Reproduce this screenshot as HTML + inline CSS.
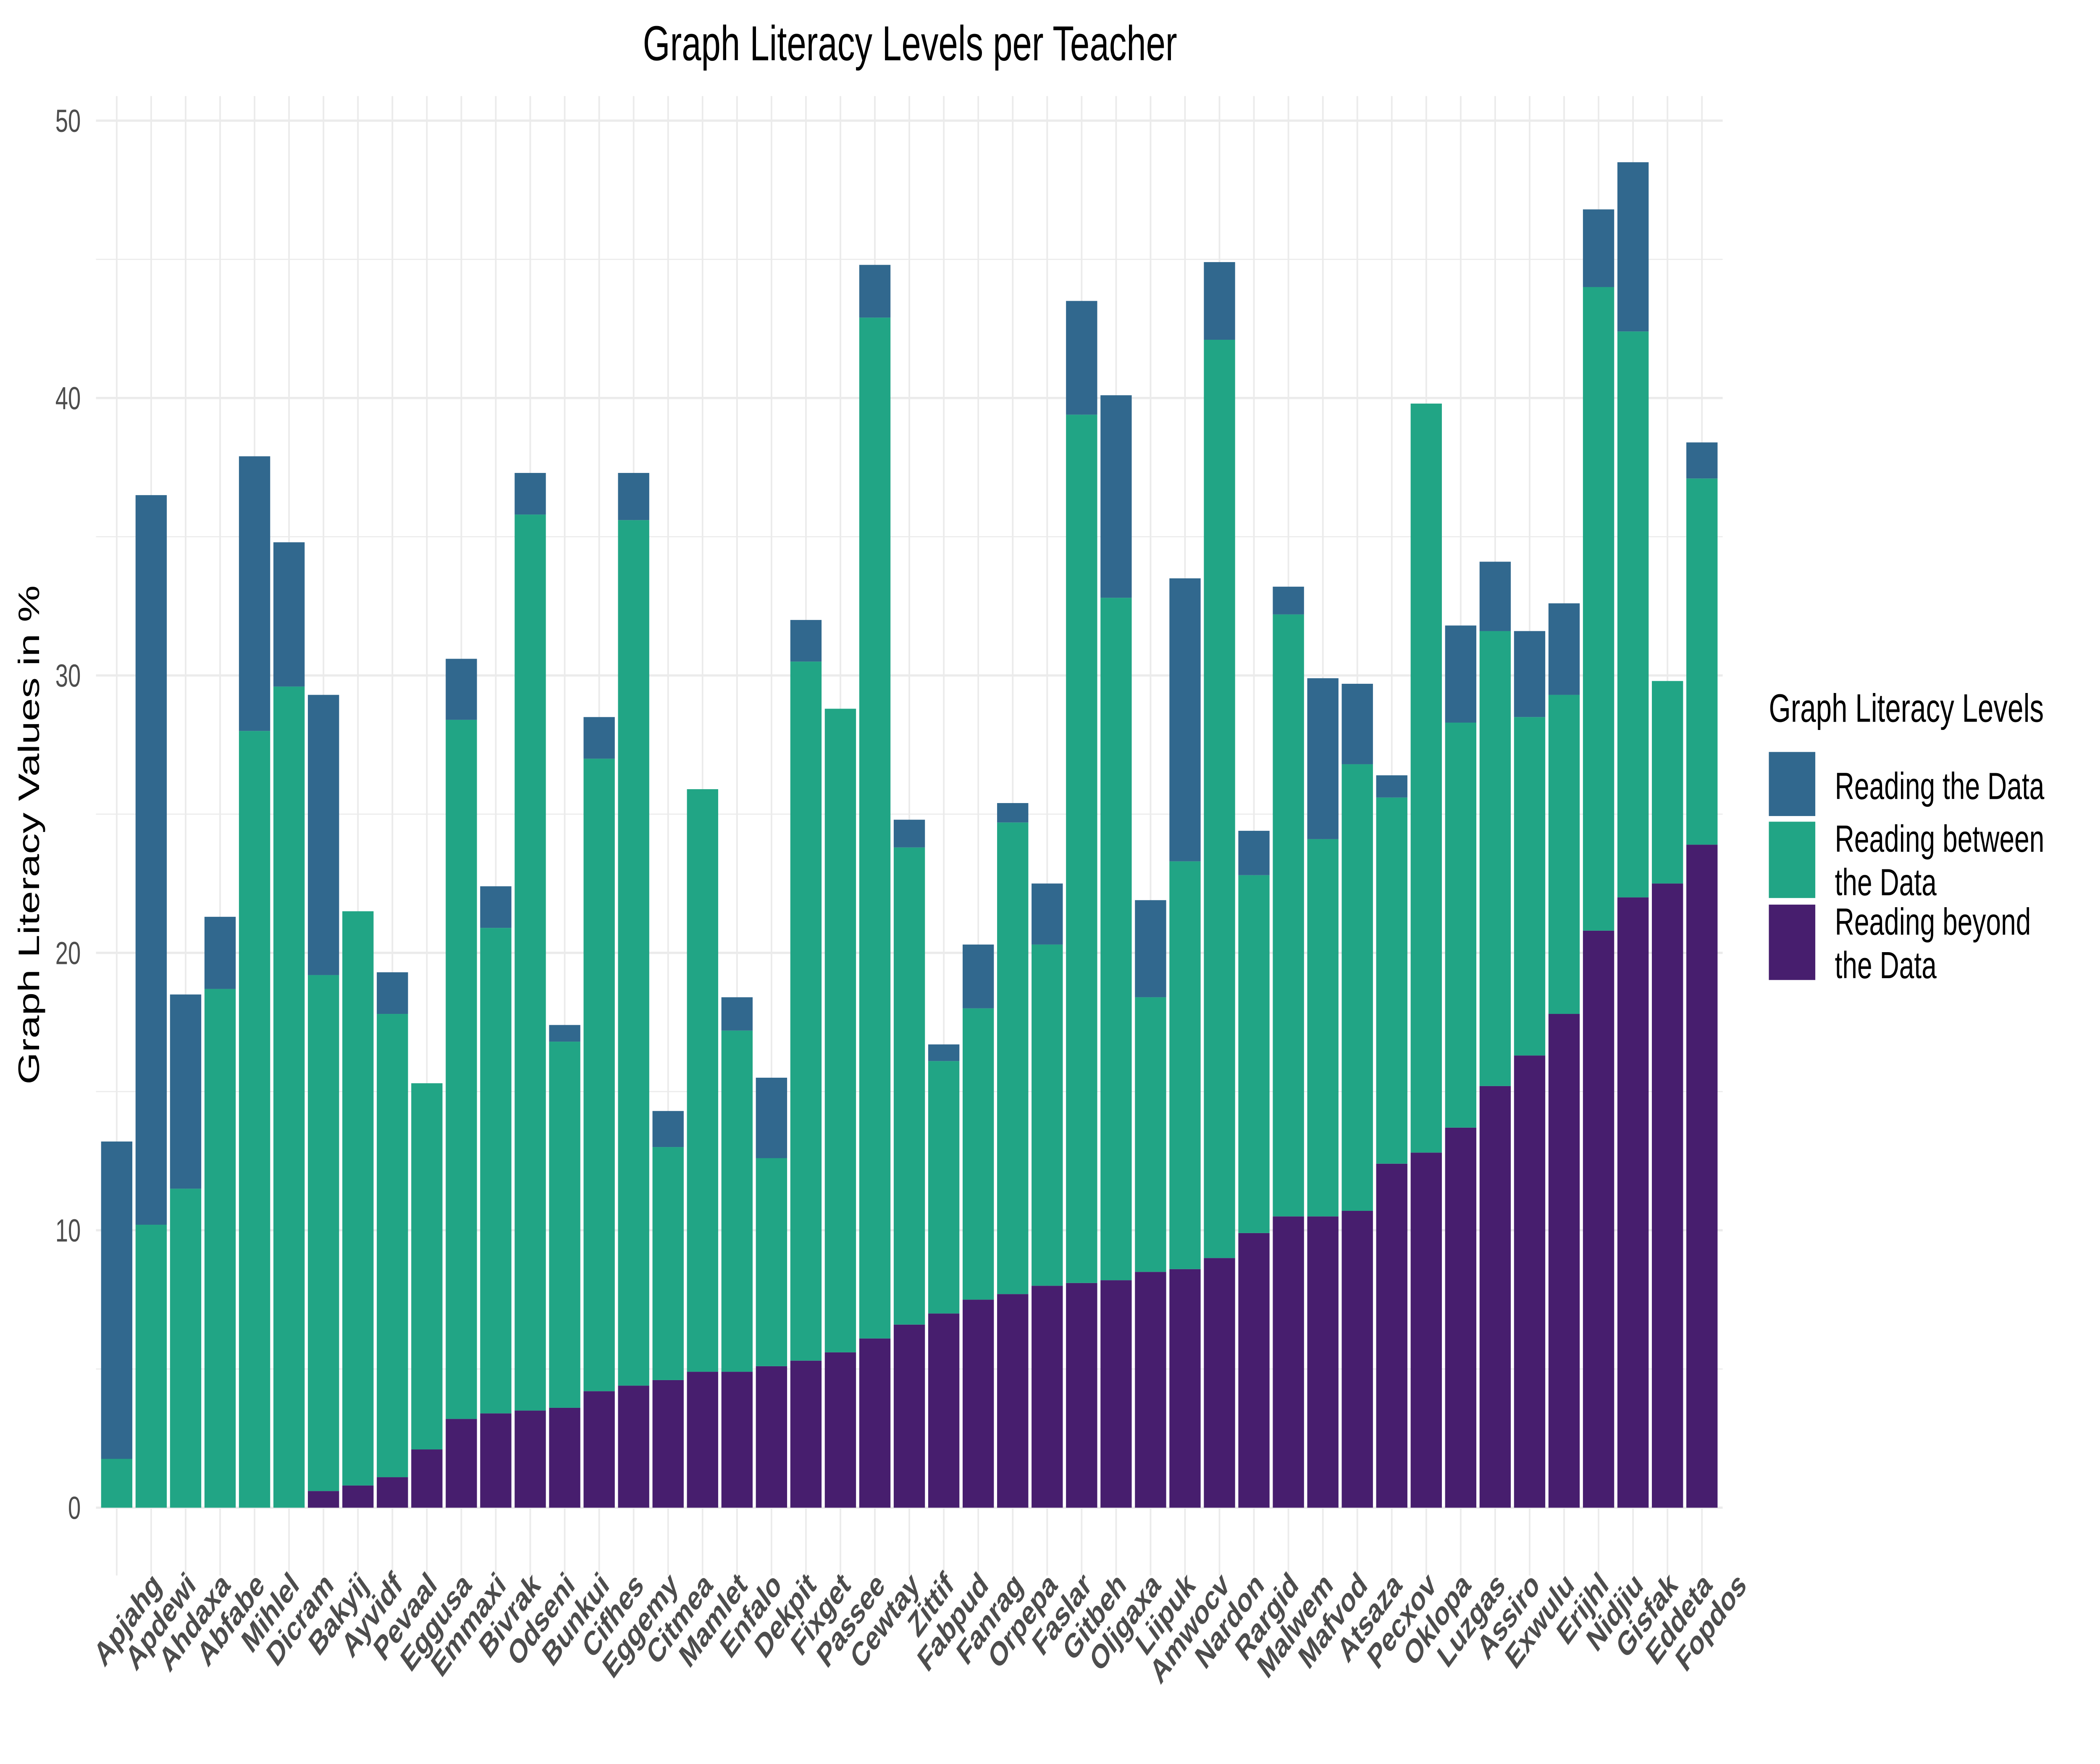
<!DOCTYPE html>
<html><head><meta charset="utf-8"><style>html,body{margin:0;padding:0;background:#fff;width:100%;height:100%;overflow:hidden;}svg{display:block;width:100vw;height:100vh;}</style></head>
<body>
<svg id="chart" viewBox="0 0 1560 936" preserveAspectRatio="none" xmlns="http://www.w3.org/2000/svg" font-family="'Liberation Sans', Arial, sans-serif">
<rect x="0" y="0" width="1560" height="936" fill="#fff"/>
<text x="676" y="32" font-size="26" text-anchor="middle" fill="#000">Graph Literacy Levels per Teacher</text>
<text transform="translate(29,443) rotate(-90)" font-size="22" text-anchor="middle" fill="#000">Graph Literacy Values in %</text>
<g id="grid"></g>
<g id="bars"></g>
<g id="yticks"></g>
<g id="xticks"></g>
<g>
<text x="1314" y="383" font-size="21" fill="#000">Graph Literacy Levels</text>
<rect x="1314" y="399" width="34.5" height="34" fill="#31688e"/>
<rect x="1314" y="436" width="34.5" height="40.5" fill="#21a585"/>
<rect x="1314" y="480" width="34.5" height="40" fill="#471e6e"/>
<text x="1363" y="424" font-size="20" fill="#000">Reading the Data</text>
<text x="1363" y="452" font-size="20" fill="#000">Reading between<tspan x="1363" y="475">the Data</tspan></text>
<text x="1363" y="496" font-size="20" fill="#000">Reading beyond<tspan x="1363" y="519">the Data</tspan></text>
</g>
</svg>
<script>
const teachers = ["Apjahg","Apdewi","Ahdaxa","Abfabe","Mihlel","Dicram","Bakyij","Ayvidf","Pevaal","Eggusa","Emmaxi","Bivrak","Odseni","Bunkui","Cifhes","Eggemy","Citmea","Mamlet","Enfalo","Dekpit","Fixget","Passee","Cewtay","Zittif","Fabpud","Fanrag","Orpepa","Faslar","Gitbeh","Oljgaxa","Liipuk","Amwocv","Nardon","Rargid","Malwem","Mafvod","Atsaza","Pecxov","Oklopa","Luzgas","Assiro","Exwulu","Erijhl","Nidjiu","Gisfak","Eddeta","Fopdos"];
const beyondValues = [0,0,0,0,0,0,0.6,0.8,1.1,2.1,3.2,3.4,3.5,3.6,4.2,4.4,4.6,4.9,4.9,5.1,5.3,5.6,6.1,6.6,7.0,7.5,7.7,8.0,8.1,8.2,8.5,8.6,9.0,9.9,10.5,10.5,10.7,12.4,12.8,13.7,15.2,16.3,17.8,20.8,22.0,22.5,23.9];
const betweenValues = [1.76,10.2,11.5,18.7,28.0,29.6,18.6,20.7,16.7,13.2,25.2,17.5,32.3,13.2,22.8,31.2,8.4,21.0,12.3,7.5,25.2,23.2,36.8,17.2,9.1,10.5,17.0,12.3,31.3,24.6,9.9,14.7,33.1,12.9,21.7,13.6,16.1,13.2,27.0,14.6,16.4,12.2,11.5,23.2,20.4,7.3,13.2];
const dataValues = [11.44,26.3,7.0,2.6,9.9,5.2,10.1,0,1.5,0,2.2,1.5,1.5,0.6,1.5,1.7,1.3,0,1.2,2.9,1.5,0,1.9,1.0,0.6,2.3,0.7,2.2,4.1,7.3,3.5,10.2,2.8,1.6,1.0,5.8,2.9,0.8,0,3.5,2.5,3.1,3.3,2.8,6.1,0,1.3];
const yTicks = [0,10,20,30,40,50];

const NS = "http://www.w3.org/2000/svg";
const X0 = 86.7, STEP = 25.6, BW = 23.2, Y0 = 800, PX = 14.72;
const panelL = 71.3, panelR = 1279.7, panelT = 51;
function xPos(i){ return X0 + i*STEP; }
function yPos(v){ return Y0 - v*PX; }
function mk(tag, attrs, parent){ const e=document.createElementNS(NS,tag); for(const k in attrs) e.setAttribute(k,attrs[k]); parent.appendChild(e); return e; }

const grid = document.getElementById('grid');
for (let v=5; v<=50; v+=10){
  const l = mk('line',{x1:panelL,x2:panelR,y1:yPos(v),y2:yPos(v),stroke:'#ebebeb','stroke-width':0.6},grid);
  
  
}
yTicks.forEach(v=>{
  const l = mk('line',{x1:panelL,x2:panelR,y1:yPos(v),y2:yPos(v),stroke:'#ebebeb','stroke-width':1.2},grid);
  
  
});
teachers.forEach((t,i)=>{
  const l = mk('line',{x1:xPos(i),x2:xPos(i),y1:panelT,y2:836,stroke:'#ebebeb','stroke-width':1.2},grid);
  
  
});

const bars = document.getElementById('bars');
teachers.forEach((t,i)=>{
  const b = beyondValues[i], bt = betweenValues[i], d = dataValues[i];
  const segs = [[0,b,'#471e6e','bar-beyond-'],[b,b+bt,'#21a585','bar-between-'],[b+bt,b+bt+d,'#31688e','bar-data-']];
  segs.forEach(s=>{
    if (s[1]-s[0] <= 0) return;
    const r = mk('rect',{x:xPos(i)-BW/2,y:yPos(s[1]),width:BW,height:yPos(s[0])-yPos(s[1]),fill:s[2]},bars);
    
    
  });
});

const yt = document.getElementById('yticks');
yTicks.forEach(v=>{
  const tx = mk('text',{x:60,y:yPos(v)+6,'font-size':17,'text-anchor':'end',fill:'#4d4d4d'},yt);
  tx.textContent = v;
  
  
});

const xt = document.getElementById('xticks');
teachers.forEach((t,i)=>{
  const ex = xPos(i)+34, ey = 842;
  const tx = mk('text',{x:ex,y:ey,'font-size':18,'font-weight':'bold','text-anchor':'end',fill:'#4d4d4d',transform:`rotate(-45 ${ex} ${ey})`},xt);
  tx.textContent = t;
  
  
});
</script>
</body></html>
